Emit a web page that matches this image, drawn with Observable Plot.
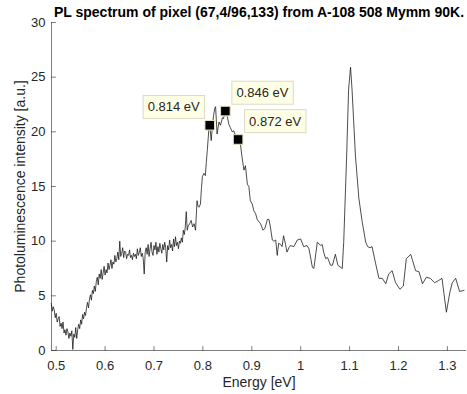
<!DOCTYPE html>
<html><head><meta charset="utf-8">
<script src="https://cdn.jsdelivr.net/npm/d3@7"></script>
<script src="https://cdn.jsdelivr.net/npm/@observablehq/plot@0.6"></script>
<style>
body{margin:0;background:#fff;}
#wrap{position:relative;width:467px;height:394px;}
svg{overflow:visible;}
</style></head><body><div id="wrap"></div>
<script>
const titleText = "PL spectrum of pixel (67,4/96,133) from A-108 508 Mymm 90K.";
const xLabel = "Energy [eV]";
const yLabel = "Photoluminescence intensity [a.u.]";

const energy = [
0.490,0.492,0.494,0.496,0.498,0.500,0.502,0.504,0.506,0.508,
0.510,0.512,0.514,0.516,0.518,0.520,0.522,0.524,0.526,0.528,
0.530,0.532,0.534,0.536,0.538,0.540,0.542,0.544,0.546,0.548,
0.550,0.552,0.554,0.556,0.558,0.560,0.562,0.564,0.566,0.568,
0.570,0.572,0.574,0.576,0.578,0.580,0.582,0.584,0.586,0.588,
0.590,0.592,0.594,0.596,0.598,0.600,0.602,0.604,0.606,0.608,
0.610,0.612,0.614,0.616,0.618,0.620,0.622,0.624,0.626,0.628,
0.630,0.632,0.634,0.636,0.638,0.640,
0.642,0.644,0.646,0.648,0.650,0.652,0.654,0.656,0.658,0.660,
0.662,0.664,0.666,0.668,0.670,0.672,0.674,0.676,0.678,0.680,
0.682,0.684,0.686,0.688,0.690,0.692,0.694,0.696,0.698,0.700,
0.702,0.704,0.706,0.708,0.710,0.712,0.714,0.716,0.718,0.720,
0.722,0.724,0.726,0.728,0.730,0.732,0.734,0.736,0.738,0.740,
0.742,0.744,0.746,0.748,0.750,0.752,0.754,0.756,0.758,0.760,
0.762,0.764,0.766,0.768,0.770,
0.773,0.776,0.779,0.782,0.785,0.788,0.790,0.792,0.795,0.797,
0.799,0.802,0.805,0.807,0.809,0.812,0.814,0.817,0.820,0.822,
0.824,0.826,0.829,0.833,0.836,0.840,0.842,0.846,0.850,0.853,
0.856,0.860,0.863,0.867,0.872,0.877,0.880,0.884,0.887,0.891,
0.894,0.897,0.901,0.904,0.908,0.911,0.914,0.918,0.923,0.927,
0.932,0.935,0.938,0.942,0.945,0.949,0.952,0.955,0.959,0.962,
0.965,0.969,0.972,0.976,0.979,0.986,0.993,1.000,1.006,1.013,
1.017,1.024,1.027,1.034,1.041,1.044,1.047,1.051,1.055,1.061,
1.065,1.071,1.076,1.085,1.088,1.094,1.098,1.102,1.105,1.112,
1.119,1.126,1.133,1.137,1.142,1.146,1.153,1.160,1.167,1.174,
1.180,1.187,1.194,1.203,1.210,1.216,1.225,1.229,1.235,1.242,
1.249,1.257,1.265,1.274,1.282,1.289,1.293,1.298,1.305,1.310,
1.317,1.325,1.334
];

const intensity = [
4.3,3.6,4.0,3.7,3.0,3.4,2.6,2.9,3.1,2.2,
2.5,2.0,2.6,1.6,1.9,1.4,2.0,1.7,1.1,1.6,
1.3,1.8,0.1,1.5,1.2,2.1,1.1,1.9,2.4,2.0,
2.8,2.4,3.3,2.9,3.5,3.2,3.9,4.4,3.9,4.7,
5.1,4.6,5.5,5.2,5.9,5.4,6.3,6.7,6.0,7.0,
6.6,7.4,6.5,7.1,7.7,6.9,7.4,7.1,8.0,7.4,
7.8,8.3,7.5,8.1,7.9,8.7,8.1,8.4,9.0,8.3,
10.0,8.6,8.9,9.4,8.5,9.1,
9.0,8.4,8.8,8.7,9.2,8.5,8.7,8.3,8.9,8.6,
8.8,8.4,9.3,8.7,9.0,9.4,8.6,8.9,8.4,7.0,
9.0,9.4,8.8,9.7,8.6,9.3,9.9,9.0,8.7,9.6,
9.2,9.9,8.8,9.5,9.0,9.8,9.3,8.9,9.7,9.2,
9.9,9.4,8.1,9.6,9.2,10.1,9.4,9.7,9.1,10.2,
9.5,10.4,9.6,9.9,9.3,10.0,9.8,10.3,9.9,11.0,
10.6,11.3,12.7,11.0,11.4,
11.6,11.9,11.3,11.6,11.0,13.7,13.2,13.1,13.4,14.8,
15.9,16.2,16.0,17.2,18.3,20.1,20.6,19.2,20.8,21.5,
22.1,22.3,19.8,20.9,20.6,21.3,21.2,21.9,21.4,20.7,
20.4,20.0,20.1,19.6,19.3,18.8,17.7,16.5,16.9,15.2,
15.0,13.7,13.4,12.8,12.5,12.0,11.8,11.6,11.0,11.2,
12.0,12.0,11.3,10.1,10.0,10.1,8.7,9.8,9.7,9.5,
10.5,9.7,9.0,9.4,9.6,9.5,10.1,10.2,9.5,9.6,
9.3,7.6,7.5,9.9,9.6,9.7,9.0,8.4,8.5,7.8,
7.8,8.8,7.8,7.5,9.9,17.8,23.9,25.9,23.9,17.8,
13.9,11.7,9.9,9.5,9.4,9.5,8.0,6.6,6.6,6.1,
7.0,7.3,6.2,5.6,5.9,8.4,8.8,8.2,7.3,7.2,
6.1,6.7,6.6,6.2,6.4,6.6,5.2,3.5,5.3,6.2,
6.6,5.4,5.5
];

const tipEnergy = [0.814, 0.846, 0.872];
const tipIntensity = [20.6, 21.9, 19.3];

const xTicks = [0.5, 0.6, 0.7, 0.8, 0.9, 1, 1.1, 1.2, 1.3];
const yTicks = [0, 5, 10, 15, 20, 25, 30];
const xDomain = [0.4904, 1.3391];
const yDomain = [0, 30];

const spectrum = energy.map((e, i) => ({e, v: intensity[i]}));
const tips = tipEnergy.map((e, i) => ({e, v: tipIntensity[i]}));
const axisColor = "#262626";
const tickShape = {draw(context, l) { context.moveTo(0, 0); context.lineTo(0, -l); }};

const svg = Plot.plot({
  width: 467, height: 394,
  marginLeft: 51, marginRight: 1, marginTop: 22, marginBottom: 44,
  style: {fontFamily: "'Liberation Sans', Arial, sans-serif", fontSize: "13px", color: axisColor, background: "#fff"},
  x: {domain: xDomain},
  y: {domain: yDomain},
  marks: [
    Plot.axisX({ticks: xTicks, tickSize: 0, tickPadding: 10, tickFormat: d => String(d), label: null, fontSize: 13}),
    Plot.axisY({ticks: yTicks, tickSize: 0, tickPadding: 6, tickFormat: d => String(d), label: null, fontSize: 13}),
    Plot.ruleY([yDomain[0]], {stroke: axisColor, strokeWidth: 0.6}),
    Plot.ruleX([xDomain[0]], {stroke: axisColor, strokeWidth: 0.6}),
    Plot.vector(xTicks, {x: d => d, y: yDomain[0], length: 4, rotate: 0, anchor: "start", shape: tickShape, stroke: axisColor, strokeWidth: 0.6}),
    Plot.vector(yTicks, {x: xDomain[0], y: d => d, length: 4, rotate: 90, anchor: "start", shape: tickShape, stroke: axisColor, strokeWidth: 0.6}),
    Plot.line(spectrum, {x: "e", y: "v", stroke: "#111", strokeWidth: 0.75}),
    Plot.dot(tips, {x: "e", y: "v", symbol: "square", r: 5.4, fill: "#000", stroke: "#E9E2B8", strokeWidth: 1}),
    Plot.text(tips.slice(0, 1), {x: "e", y: "v", text: d => `${d.e} eV`, textAnchor: "end", dx: -10, dy: -18, fontSize: 13, fill: "#262626"}),
    Plot.text(tips.slice(1), {x: "e", y: "v", text: d => `${d.e} eV`, textAnchor: "start", dx: 11, dy: -18, fontSize: 13, fill: "#262626"}),
    Plot.text([titleText], {frameAnchor: "top", lineAnchor: "middle", textAnchor: "middle", dy: -10, fontWeight: "bold", fontSize: 14, fill: "#000"}),
    Plot.text([xLabel], {frameAnchor: "bottom", lineAnchor: "middle", textAnchor: "middle", dy: 32, fontSize: 14, fill: "#262626"}),
    Plot.text([yLabel], {frameAnchor: "left", lineAnchor: "middle", textAnchor: "middle", rotate: -90, dx: -31, fontSize: 14, fill: "#262626"})
  ]
});
document.getElementById("wrap").append(svg);

// datatip backgrounds
svg.querySelectorAll("text").forEach(t => {
  const s = t.textContent;
  if (/^[0-9.]+ eV$/.test(s)) {
    const b = t.getBBox();
    const r = document.createElementNS("http://www.w3.org/2000/svg", "rect");
    const cy = b.y + b.height / 2;
    r.setAttribute("x", b.x - 4.5);
    r.setAttribute("y", cy - 11.5);
    r.setAttribute("width", b.width + 9);
    r.setAttribute("height", 23);
    r.setAttribute("fill", "#FFFFE6");
    r.setAttribute("stroke", "#DADAC4");
    r.setAttribute("stroke-width", 1);
    const tr = t.getAttribute("transform");
    if (tr) r.setAttribute("transform", tr);
    t.parentNode.insertBefore(r, t);
  }
});
</script>
</body></html>
